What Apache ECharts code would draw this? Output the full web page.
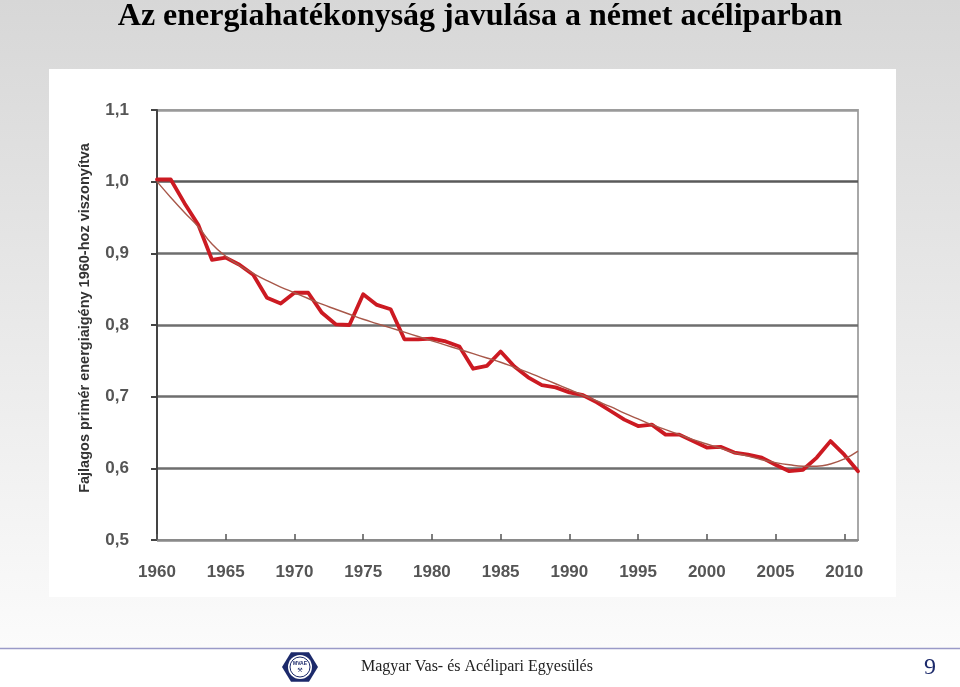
<!DOCTYPE html>
<html>
<head>
<meta charset="utf-8">
<script src="https://cdn.jsdelivr.net/npm/echarts@6/dist/echarts.min.js"></script>
<style>
html,body{margin:0;padding:0;width:960px;height:687px;overflow:hidden;background:#fff;}
#chart{width:960px;height:687px;}
</style>
</head>
<body>
<div id="chart"></div>
<script>
const years = ["1960","1961","1962","1963","1964","1965","1966","1967","1968","1969",
"1970","1971","1972","1973","1974","1975","1976","1977","1978","1979",
"1980","1981","1982","1983","1984","1985","1986","1987","1988","1989",
"1990","1991","1992","1993","1994","1995","1996","1997","1998","1999",
"2000","2001","2002","2003","2004","2005","2006","2007","2008","2009","2010","2011"];

const energyIndex = [1.003,1.003,0.970,0.940,0.891,0.894,0.884,0.870,0.838,0.830,
0.845,0.845,0.817,0.801,0.800,0.843,0.828,0.822,0.780,0.780,
0.781,0.777,0.770,0.739,0.743,0.763,0.742,0.727,0.716,0.713,
0.706,0.702,0.692,0.680,0.668,0.659,0.661,0.647,0.647,0.638,
0.629,0.630,0.622,0.619,0.615,0.605,0.596,0.598,0.615,0.638,0.619,0.596];

const trendIndex = [1.000,0.978,0.957,0.937,0.913,0.896,0.883,0.872,0.862,0.853,
0.845,0.837,0.829,0.822,0.815,0.808,0.802,0.796,0.790,0.784,
0.778,0.772,0.766,0.760,0.754,0.748,0.741,0.734,0.726,0.718,
0.710,0.702,0.694,0.686,0.677,0.669,0.661,0.654,0.647,0.640,
0.634,0.628,0.622,0.617,0.612,0.608,0.605,0.603,0.603,0.606,0.613,0.624];

const yTicks = {min:0.5, max:1.1, interval:0.1};

const titleText = "Az energiahatékonyság javulása a német acéliparban";
const yName = "Fajlagos primér energiaigény 1960-hoz viszonyítva";
const footerText = "Magyar Vas- és Acélipari Egyesülés";
const pageNo = "9";

const chart = echarts.init(document.getElementById('chart'), null, {renderer:'canvas'});

function hexPoints(cx, cy, r){
  const pts=[];
  for(let i=0;i<6;i++){
    const a=Math.PI/3*i;
    pts.push([cx+r*Math.cos(a), cy+r*Math.sin(a)*0.95]);
  }
  return pts;
}

const option = {
  backgroundColor:'#ffffff',
  animation:false,
  title:{
    text:titleText,
    left:'center',
    top:-4,
    textStyle:{fontFamily:'Liberation Serif', fontWeight:'bold', fontSize:32, color:'#000'}
  },
  graphic:[
    {type:'rect', z:-10, silent:true, shape:{x:0,y:0,width:960,height:648},
     style:{fill:new echarts.graphic.LinearGradient(0,0,0,1,[{offset:0,color:'#d7d7d7'},{offset:1,color:'#fbfbfb'}])}},
    {type:'rect', z:-9, silent:true, shape:{x:49,y:69,width:847,height:528}, style:{fill:'#ffffff'}},
    {type:'line', z:-8, silent:true, shape:{x1:0,y1:648.5,x2:960,y2:648.5}, style:{stroke:'#9a9ac8', lineWidth:1.5}},
    {type:'polygon', silent:true, shape:{points:hexPoints(300,667,18)}, style:{fill:'#1c2a6b'}},
    {type:'circle', silent:true, shape:{cx:300,cy:667,r:12}, style:{fill:'#ffffff'}},
    {type:'circle', silent:true, shape:{cx:300,cy:667,r:10}, style:{fill:'#ffffff', stroke:'#1c2a6b', lineWidth:1}},
    {type:'text', silent:true, x:300, y:664, style:{text:'MVAE', fontSize:5, fontWeight:'bold', fill:'#1c2a6b', align:'center', verticalAlign:'middle', fontFamily:'Liberation Sans'}},
    {type:'text', silent:true, x:300, y:670, style:{text:'⚒', fontSize:6, fill:'#1c2a6b', align:'center', verticalAlign:'middle', fontFamily:'DejaVu Sans'}},
    {type:'text', silent:true, x:361, y:667, style:{text:footerText, fontSize:16, fill:'#222', align:'left', verticalAlign:'middle', fontFamily:'Liberation Serif'}},
    {type:'text', silent:true, x:930, y:668, style:{text:pageNo, fontSize:24, fill:'#1c2a6b', align:'center', verticalAlign:'middle', fontFamily:'Liberation Serif'}}
  ],
  grid:{left:157, top:110, right:102, bottom:147, show:true, borderColor:'#a8a8a8', borderWidth:2, backgroundColor:'#ffffff'},
  xAxis:{
    type:'category',
    data:years,
    boundaryGap:false,
    axisLine:{lineStyle:{color:'#8a8a8a', width:2}},
    axisTick:{show:true, inside:true, length:6, interval:4, lineStyle:{color:'#555', width:1.5}},
    axisLabel:{interval:4, margin:24, color:'#555', fontSize:17, fontWeight:'bold', fontFamily:'Liberation Sans'},
    splitLine:{show:false}
  },
  yAxis:{
    type:'value',
    min:yTicks.min, max:yTicks.max, interval:yTicks.interval,
    name:yName,
    nameLocation:'middle',
    nameGap:65,
    nameTextStyle:{fontFamily:'Liberation Sans', fontWeight:'bold', fontSize:14.5, color:'#333', padding:[0,0,0,14]},
    axisLine:{show:true, lineStyle:{color:'#444', width:2}},
    axisTick:{show:true, length:6, lineStyle:{color:'#444', width:2}},
    axisLabel:{margin:28, color:'#555', fontSize:17, fontWeight:'bold', fontFamily:'Liberation Sans',
      formatter:function(v){return v.toFixed(1).replace('.',',');}},
    splitLine:{show:true, lineStyle:{color:['#888','#6e6e6e','#6e6e6e','#6e6e6e','#6e6e6e','#5a5a5a','#9a9a9a'], width:2.5}}
  },
  series:[
    {type:'line', name:'index', data:energyIndex, symbol:'none', smooth:false, z:3,
     lineStyle:{color:'#cc1a22', width:3.8, join:'round', cap:'round'}},
    {type:'line', name:'trend', data:trendIndex, symbol:'none', smooth:true, z:4,
     lineStyle:{color:'#a8584a', width:1.4}}
  ]
};
chart.setOption(option);
</script>
</body>
</html>
